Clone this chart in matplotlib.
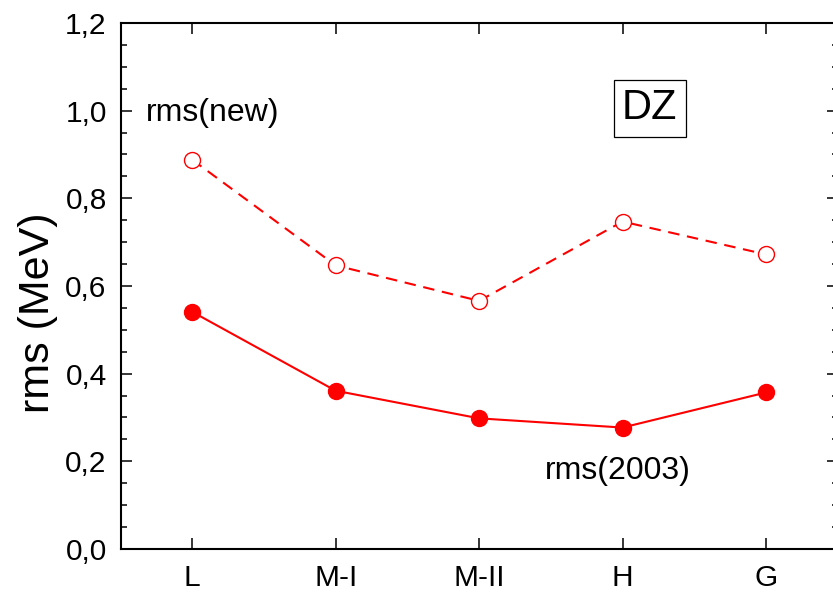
import matplotlib
matplotlib.use("Agg")
import matplotlib.pyplot as plt
from matplotlib.ticker import MultipleLocator, FuncFormatter

plt.rcParams["font.family"] = ["Liberation Sans", "DejaVu Sans"]

groups = ["L", "M-I", "M-II", "H", "G"]
rms_new = [0.888, 0.647, 0.566, 0.747, 0.672]
rms_2003 = [0.541, 0.361, 0.298, 0.277, 0.357]

xpos = list(range(1, len(groups) + 1))

fig = plt.figure(figsize=(8.33, 5.94), dpi=100)
ax = fig.add_axes([0.1447, 0.0758, 0.8609, 0.8855])

ax.plot(xpos, rms_new, color="red", lw=1.5, ls="--", dashes=(5.5, 3.7),
        marker="o", ms=11.5, mfc="white", mec="red", mew=1.0)
ax.plot(xpos, rms_2003, color="red", lw=1.5, ls="-",
        marker="o", ms=11.5, mfc="red", mec="red")

ax.set_xlim(0.5, 5.5)
ax.set_ylim(0, 1.2)
ax.set_xticks(xpos)
ax.set_xticklabels(groups)
ax.yaxis.set_major_locator(MultipleLocator(0.2))
ax.yaxis.set_minor_locator(MultipleLocator(0.05))
ax.yaxis.set_major_formatter(FuncFormatter(lambda v, p: f"{v:.1f}".replace(".", ",")))

ax.tick_params(which="both", direction="in", top=True, right=True, width=1.1)
ax.tick_params(which="major", length=8, labelsize=21.5, pad=11)
ax.tick_params(which="minor", length=4.5)
ax.tick_params(axis="y", which="major", pad=10)
for sp in ax.spines.values():
    sp.set_linewidth(1.5)

ax.set_ylabel("rms (MeV)", fontsize=31)
ax.yaxis.set_label_coords(-0.087, 0.45)

# curve labels
ax.text(1.14, 0.995, "rms(new)", fontsize=23, ha="center", va="center")
ax.text(3.97, 0.178, "rms(2003)", fontsize=23, ha="center", va="center")

ax.text(0.738, 0.838, "DZ", fontsize=30, ha="center", va="center",
        transform=ax.transAxes,
        bbox=dict(boxstyle="square,pad=0.2", fc="white", ec="black", lw=0.9))

fig.savefig("out.png", dpi=100)
